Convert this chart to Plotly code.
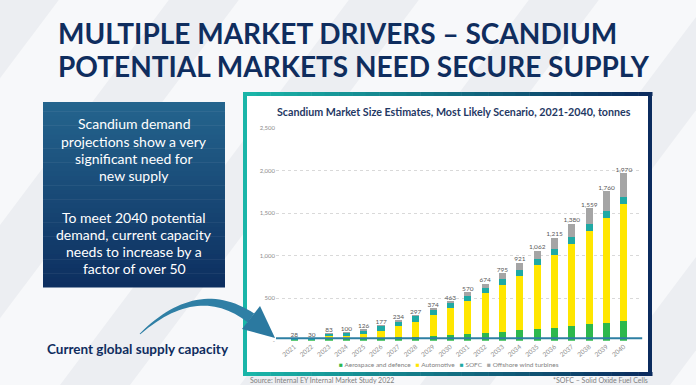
import plotly.graph_objects as go

W, H = 696, 385

years = [str(y) for y in range(2021, 2041)]
aerospace = [6, 6, 16, 20, 26, 33, 40, 47, 54, 68, 80, 92, 107, 123, 139, 154, 174, 194, 215, 236]
automotive = [0, 2, 35, 42, 59, 88, 130, 180, 245, 315, 392, 468, 554, 644, 752, 857, 968, 1095, 1230, 1369]
sofc = [22, 22, 30, 36, 38, 52, 58, 62, 65, 62, 58, 62, 66, 70, 75, 72, 78, 80, 85, 90]
offshore = [0, 0, 2, 2, 3, 4, 6, 8, 10, 18, 40, 52, 68, 84, 96, 132, 160, 190, 230, 275]
totals = [28, 30, 83, 100, 126, 177, 234, 297, 374, 463, 570, 674, 795, 921, 1062, 1215, 1380, 1559, 1760, 1970]
supply_capacity = 30
y_ticks = [0, 500, 1000, 1500, 2000, 2500]
y_tick_labels = ["-", "500", "1,000", "1,500", "2,000", "2,500"]

series = [
    ("Aerospace and defence", aerospace, "#2db84d"),
    ("Automotive", automotive, "#ffe600"),
    ("SOFC", sofc, "#1fa9a4"),
    ("Offshore wind turbines", offshore, "#a5a5a5"),
]

box_lines_1 = ["Scandium demand", "projections show a very", "significant need for", "new supply"]
box_lines_2 = ["To meet 2040 potential", "demand, current capacity", "needs to increase by a", "factor of over 50"]


def px(x):
    return x / W


def py(y):
    return 1 - y / H


def mix(c1, c2, t):
    a = [int(c1[i:i + 2], 16) for i in (1, 3, 5)]
    b = [int(c2[i:i + 2], 16) for i in (1, 3, 5)]
    return "#%02x%02x%02x" % tuple(round(a[k] + (b[k] - a[k]) * t) for k in range(3))


fig = go.Figure()
for name, vals, col in series:
    fig.add_trace(go.Bar(x=years, y=vals, name=name, marker=dict(color=col, line=dict(width=0)),
                         showlegend=False))
fig.add_trace(go.Scatter(x=years, y=totals, mode="text", text=[f"{v:,}" for v in totals],
                         textposition="top center", textfont=dict(size=6.5, color="#595959", family="Lato"),
                         showlegend=False, cliponaxis=False))

shapes = []
# background stripes
for x0 in [-300, -120, 60, 240, 420, 600]:
    k = 0.75
    path = f"M {px(x0)},{py(H)} L {px(x0 + 70)},{py(H)} L {px(x0 + 70 + H * k)},{py(0)} L {px(x0 + H * k)},{py(0)} Z"
    shapes.append(dict(type="path", xref="paper", yref="paper", path=path,
                       fillcolor="#eceef2", line=dict(width=0), layer="below"))

# chart frame (white panel + gradient border)
fx0, fy0, fx1, fy1, bw = 243, 92, 652, 376, 4
shapes.append(dict(type="rect", xref="paper", yref="paper", x0=px(fx0), x1=px(fx1), y0=py(fy1), y1=py(fy0),
                   fillcolor="white", line=dict(width=0), layer="below"))
teal, navy = "#1ab5a8", "#0b2b5e"
nseg = 30
for i in range(nseg):
    xa = fx0 + (fx1 - fx0) * i / nseg
    xb = fx0 + (fx1 - fx0) * (i + 1) / nseg + 0.5
    c = mix(teal, navy, i / (nseg - 1))
    for (ya, yb) in [(fy0, fy0 + bw), (fy1 - bw, fy1)]:
        shapes.append(dict(type="rect", xref="paper", yref="paper", x0=px(xa), x1=px(xb), y0=py(yb), y1=py(ya),
                           fillcolor=c, line=dict(width=0), layer="below"))
shapes.append(dict(type="rect", xref="paper", yref="paper", x0=px(fx0), x1=px(fx0 + bw), y0=py(fy1), y1=py(fy0),
                   fillcolor=teal, line=dict(width=0), layer="below"))
shapes.append(dict(type="rect", xref="paper", yref="paper", x0=px(fx1 - bw), x1=px(fx1), y0=py(fy1), y1=py(fy0),
                   fillcolor=navy, line=dict(width=0), layer="below"))

# left text box with gradient
bx0, by0, bx1, by1 = 43, 102, 225, 287
nb = 40
for i in range(nb):
    ya = by0 + (by1 - by0) * i / nb
    yb = by0 + (by1 - by0) * (i + 1) / nb + 0.5
    c = mix("#24648d", "#0d2f60", i / (nb - 1))
    shapes.append(dict(type="rect", xref="paper", yref="paper", x0=px(bx0), x1=px(bx1), y0=py(yb), y1=py(ya),
                       fillcolor=c, line=dict(width=0), layer="below"))

# supply capacity line
shapes.append(dict(type="line", xref="x domain", yref="y", x0=0, x1=1, y0=supply_capacity, y1=supply_capacity,
                   line=dict(color="#2e7fa3", width=2), layer="above"))

# curved arrow
p0, cp, p1 = (140, 334), (198, 280), (251, 318)
top_pts, bot_pts = [], []
n = 30
for i in range(n + 1):
    t = i / n
    x = (1 - t) ** 2 * p0[0] + 2 * (1 - t) * t * cp[0] + t ** 2 * p1[0]
    y = (1 - t) ** 2 * p0[1] + 2 * (1 - t) * t * cp[1] + t ** 2 * p1[1]
    dx = 2 * (1 - t) * (cp[0] - p0[0]) + 2 * t * (p1[0] - cp[0])
    dy = 2 * (1 - t) * (cp[1] - p0[1]) + 2 * t * (p1[1] - cp[1])
    L = (dx * dx + dy * dy) ** 0.5
    nx, ny = -dy / L, dx / L
    w = 0.5 + 5.0 * t
    top_pts.append((x - nx * w, y - ny * w))
    bot_pts.append((x + nx * w, y + ny * w))
pts = top_pts + bot_pts[::-1]
path = "M " + " L ".join(f"{px(a)},{py(b)}" for a, b in pts) + " Z"
shapes.append(dict(type="path", xref="paper", yref="paper", path=path, fillcolor="#2f7fa5",
                   line=dict(width=0), layer="above"))
head = [(260, 306), (242, 329), (275, 338)]
path = "M " + " L ".join(f"{px(a)},{py(b)}" for a, b in head) + " Z"
shapes.append(dict(type="path", xref="paper", yref="paper", path=path, fillcolor="#2b79a0",
                   line=dict(width=0), layer="above"))

ann = []
navy_t = "#0f2d5e"
ann.append(dict(text="<b>MULTIPLE MARKET DRIVERS – SCANDIUM</b>", x=px(56), y=py(33), xanchor="left",
                yanchor="middle", font=dict(size=28, color=navy_t, family="Lato", weight=900)))
ann.append(dict(text="<b>POTENTIAL MARKETS NEED SECURE SUPPLY</b>", x=px(56), y=py(66), xanchor="left",
                yanchor="middle", font=dict(size=28, color=navy_t, family="Lato", weight=900)))
for lines, ys in [(box_lines_1, [123, 141, 158, 175]), (box_lines_2, [217, 234, 251, 268])]:
    for txt, yy in zip(lines, ys):
        ann.append(dict(text=txt, x=px(134), y=py(yy), xanchor="center", yanchor="middle",
                        font=dict(size=14, color="white", family="Lato")))
ann.append(dict(text="<b>Current global supply capacity</b>", x=px(137.5), y=py(349), xanchor="center",
                yanchor="middle", font=dict(size=13.5, color=navy_t, family="Lato")))
ann.append(dict(text="<b>Scandium Market Size Estimates, Most Likely Scenario, 2021-2040, tonnes</b>",
                x=px(454), y=py(111), xanchor="center", yanchor="middle",
                font=dict(size=10.7, color="#1f3864", family="Lato")))
legend_txt = "   ".join(f"<span style='color:{c}'>■</span> {n}" for n, _, c in series)
ann.append(dict(text=legend_txt, x=px(449), y=py(364), xanchor="center", yanchor="middle",
                font=dict(size=6.5, color="#7f7f7f", family="Lato")))
ann.append(dict(text="Source: Internal EY Internal Market Study 2022", x=px(248), y=py(380), xanchor="left",
                yanchor="middle", font=dict(size=7, color="#7f7f7f", family="Lato")))
ann.append(dict(text="*SOFC – Solid Oxide Fuel Cells", x=px(650), y=py(380), xanchor="right",
                yanchor="middle", font=dict(size=7, color="#7f7f7f", family="Lato")))
for a in ann:
    a.update(xref="paper", yref="paper", showarrow=False)

fig.update_layout(
    width=W, height=H, margin=dict(l=0, r=0, t=0, b=0, pad=0), autosize=False,
    paper_bgcolor="#f7f8fa", plot_bgcolor="rgba(0,0,0,0)",
    barmode="stack", bargap=0.59, showlegend=False,
    shapes=shapes, annotations=ann,
    xaxis=dict(domain=[px(276), px(642.2)], tickangle=-40, tickfont=dict(size=6.5, color="#8c8c8c", family="Lato"),
               showgrid=False, showline=False, ticks="", zeroline=False, fixedrange=True, automargin=False),
    yaxis=dict(domain=[py(340.8), py(128.3)], range=[0, 2500], tickvals=y_ticks, ticktext=y_tick_labels,
               tickfont=dict(size=6, color="#8c8c8c", family="Lato"), showgrid=True, gridcolor="#d9d9d9",
               griddash="dot", gridwidth=1, zeroline=False, showline=False, ticks="", fixedrange=True,
               automargin=False),
)

fig.write_html("out.html", config={"displayModeBar": False},
               post_script="document.body.style.margin='0';document.body.style.overflow='hidden';")
